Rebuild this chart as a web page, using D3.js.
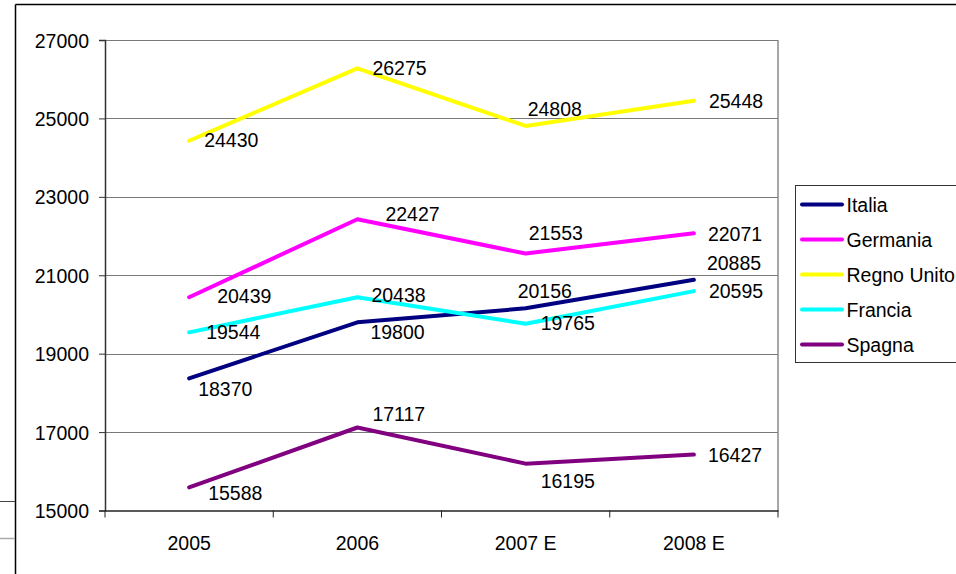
<!DOCTYPE html>
<meta charset="utf-8">
<style>

body {
  margin: 0;
  background: #fff;
}

svg {
  display: block;
  font-family: Arial, "Liberation Sans", sans-serif;
}

.axis text {
  font-size: 19.5px;
  fill: #000;
}

.grid line {
  stroke: #7a7a7a;
  stroke-width: 1px;
}

.series {
  fill: none;
  stroke-width: 4px;
  stroke-linejoin: round;
  stroke-linecap: round;
}

.value-label {
  font-size: 19.5px;
  fill: #000;
}

.legend text {
  font-size: 19.5px;
  fill: #000;
}

</style>
<svg width="956" height="574"></svg>
<script src="https://cdn.jsdelivr.net/npm/d3@7"></script>
<script>

// data
var years = ["2005", "2006", "2007 E", "2008 E"];
var countries = ["Italia", "Germania", "Regno Unito", "Francia", "Spagna"];
var italia = [18370, 19800, 20156, 20885];
var germania = [20439, 22427, 21553, 22071];
var regnoUnito = [24430, 26275, 24808, 25448];
var francia = [19544, 20438, 19765, 20595];
var spagna = [15588, 17117, 16195, 16427];
var yTicks = [15000, 17000, 19000, 21000, 23000, 25000, 27000];

var colors = ["#000080", "#ff00ff", "#ffff00", "#00ffff", "#800080"];

// where each value label sits, relative to its point (dx, dy)
var labelOffsets = [
  [[9, 11], [13, 10], [-8, -17], [13, -17]],
  [[28, -1], [28, -5], [3, -21], [14, 1]],
  [[15, -1], [15, 0], [2, -17], [15, 0]],
  [[17, 0], [14, -2], [15, -1], [15, 0]],
  [[19, 6], [15, -14], [15, 17], [14, 0]]
];

var values = [italia, germania, regnoUnito, francia, spagna];

var series = countries.map(function(name, i) {
  return {
    name: name,
    color: colors[i],
    points: years.map(function(yr, j) {
      return {year: yr, value: values[i][j], off: labelOffsets[i][j]};
    })
  };
});

var svg = d3.select("svg");

var plot = {left: 105, right: 778, top: 40, bottom: 510.5};

var x = d3.scaleBand()
    .domain(years)
    .range([plot.left, plot.right])
    .padding(0);

var y = d3.scaleLinear()
    .domain([15000, 27000])
    .range([plot.bottom, plot.top]);

function cx(yr) { return x(yr) + x.bandwidth() / 2; }

// outer chart frame (partly cropped in the picture)
svg.append("line")
    .attr("x1", 15.5).attr("x2", 956)
    .attr("y1", 4.5).attr("y2", 4.5)
    .attr("stroke", "#000").attr("stroke-width", 1.5);
svg.append("line")
    .attr("x1", 15.5).attr("x2", 15.5)
    .attr("y1", 4.5).attr("y2", 574)
    .attr("stroke", "#000").attr("stroke-width", 1.5);
svg.append("line")
    .attr("x1", 0).attr("x2", 15)
    .attr("y1", 501.5).attr("y2", 501.5)
    .attr("stroke", "#444").attr("stroke-width", 1);
svg.append("line")
    .attr("x1", 0).attr("x2", 15)
    .attr("y1", 538.5).attr("y2", 538.5)
    .attr("stroke", "#aaa").attr("stroke-width", 1.5);

// horizontal gridlines
svg.append("g")
    .attr("class", "grid")
  .selectAll("line")
  .data(yTicks.slice(1))
  .enter().append("line")
    .attr("x1", plot.left)
    .attr("x2", plot.right)
    .attr("y1", function(d) { return Math.round(y(d)) + 0.5; })
    .attr("y2", function(d) { return Math.round(y(d)) + 0.5; });

// right border of the plot area
svg.append("line")
    .attr("x1", plot.right).attr("x2", plot.right)
    .attr("y1", plot.top).attr("y2", plot.bottom)
    .attr("stroke", "#8a8a8a").attr("stroke-width", 1.5);

// y axis
var yAxis = svg.append("g")
    .attr("class", "axis axis--y")
    .attr("transform", "translate(" + plot.left + ",0)")
    .call(d3.axisLeft(y).tickValues(yTicks).tickSize(6).tickPadding(10).tickFormat(d3.format("d")));
yAxis.select(".domain").attr("stroke", "#333").attr("stroke-width", 1.5);
yAxis.selectAll(".tick line").attr("stroke", "#333");
yAxis.selectAll("text").attr("dy", "0.36em");

// x axis: labels centred, ticks on the category edges
var xAxis = svg.append("g")
    .attr("class", "axis axis--x")
    .attr("transform", "translate(0," + plot.bottom + ")")
    .call(d3.axisBottom(x).tickSize(0).tickPadding(26));
xAxis.select(".domain").attr("stroke", "#222").attr("stroke-width", 1.5);

var edges = years.map(function(yr) { return x(yr); }).concat([plot.right]);
xAxis.selectAll(".edge")
  .data(edges)
  .enter().append("line")
    .attr("class", "edge")
    .attr("x1", function(d) { return d; })
    .attr("x2", function(d) { return d; })
    .attr("y1", 0).attr("y2", 7)
    .attr("stroke", "#222");

// lines
var line = d3.line()
    .x(function(d) { return cx(d.year); })
    .y(function(d) { return y(d.value); });

var country = svg.selectAll(".country")
  .data(series)
  .enter().append("g")
    .attr("class", "country");

country.append("path")
    .attr("class", "series")
    .attr("d", function(d) { return line(d.points); })
    .style("stroke", function(d) { return d.color; });

// value labels
svg.selectAll(".country-labels")
  .data(series)
  .enter().append("g")
    .attr("class", "country-labels")
  .selectAll("text")
  .data(function(d) { return d.points; })
  .enter().append("text")
    .attr("class", "value-label")
    .attr("x", function(d) { return cx(d.year) + d.off[0]; })
    .attr("y", function(d) { return y(d.value) + d.off[1]; })
    .attr("dy", "0.36em")
    .text(function(d) { return d.value; });

// legend
var legend = svg.append("g")
    .attr("class", "legend");

legend.append("rect")
    .attr("x", 795.5)
    .attr("y", 185.5)
    .attr("width", 200)
    .attr("height", 177)
    .attr("fill", "#fff")
    .attr("stroke", "#333")
    .attr("stroke-width", 1);

var item = legend.selectAll(".item")
  .data(series)
  .enter().append("g")
    .attr("class", "item")
    .attr("transform", function(d, i) { return "translate(0," + (204.5 + i * 35) + ")"; });

item.append("line")
    .attr("x1", 802).attr("x2", 842)
    .attr("y1", 0).attr("y2", 0)
    .attr("stroke", function(d) { return d.color; })
    .attr("stroke-width", 4)
    .attr("stroke-linecap", "round");

item.append("text")
    .attr("x", 846.5)
    .attr("dy", "0.36em")
    .text(function(d) { return d.name; });

</script>
